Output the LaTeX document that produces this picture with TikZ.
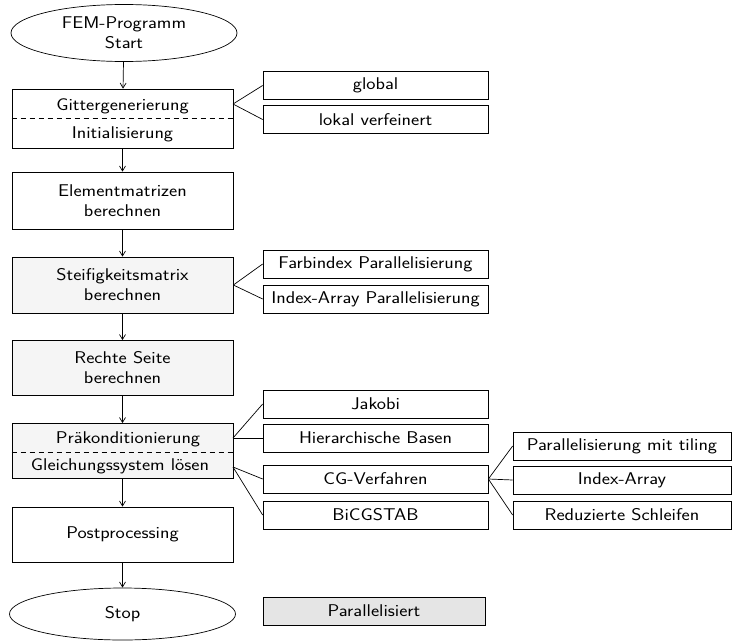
\documentclass[tikz,border=0pt]{standalone}
\usepackage{fontspec}
\setsansfont{Latin Modern Sans}[FakeStretch=1.15]
\usetikzlibrary{arrows.meta,shapes.geometric}
\begin{document}
\begin{tikzpicture}[x=1pt,y=-1pt,
  font=\sffamily\fontsize{17}{20}\selectfont,
  line width=0.7pt,
  mainbox/.style={draw, rectangle, minimum width=221pt, inner sep=0pt, align=center},
  sidebox/.style={draw, rectangle, minimum width=225pt, minimum height=28pt, inner sep=0pt},
  subbox/.style={draw, rectangle, minimum width=218pt, minimum height=28pt, inner sep=0pt},
  terminal/.style={draw, ellipse, minimum width=226pt, inner sep=0pt, align=center},
  flow/.style={-{Straight Barb[length=5pt,width=6pt]}},
  parfill/.style={fill=black!4},
  sepline/.style={dash pattern=on 5pt off 4pt}]
\useasboundingbox (0,0) rectangle (733,640);

% main column
\node[terminal, minimum height=57pt] (start) at (124,33) {FEM-Programm\\Start};
\node[mainbox, minimum height=59pt] (gitter) at (122.5,118.5) {};
\draw[sepline] (gitter.west |- 0,118) coordinate (gsl) -- (gitter.east |- 0,118) coordinate (gsr);
\node (gtext) at (122.5,106) {Gittergenerierung};
\node (itext) at (122.5,134) {Initialisierung};
\node[mainbox, minimum height=57pt] (elem) at (122.5,200.5) {Elementmatrizen\\berechnen};
\node[mainbox, parfill, minimum height=56pt] (steif) at (122.5,285) {Steifigkeitsmatrix\\berechnen};
\node[mainbox, parfill, minimum height=55pt] (rechte) at (122.5,368) {Rechte Seite\\berechnen};
\node[mainbox, parfill, minimum height=55pt] (prae) at (122.5,451) {};
\draw[sepline] (prae.west |- 0,452) coordinate (psl) -- (prae.east |- 0,452) coordinate (psr);
\node (ptext) at (128,439) {Präkonditionierung};
\node (ltext) at (120,466) {Gleichungssystem lösen};
\node[mainbox, minimum height=55pt] (post) at (122.5,534.5) {Postprocessing};
\node[terminal, minimum height=52pt] (stop) at (122.5,614) {Stop};

\draw[flow] (start) -- (gitter);
\draw[flow] (gitter) -- (elem);
\draw[flow] (elem) -- (steif);
\draw[flow] (steif) -- (rechte);
\draw[flow] (rechte) -- (prae);
\draw[flow] (prae) -- (post);
\draw[flow] (post) -- (stop);

% side boxes
\node[sidebox] (global) at (375.5,85.5) {global};
\node[sidebox] (lokal) at (375.5,119.5) {lokal verfeinert};
\node[sidebox] (farb) at (375.5,264) {Farbindex Parallelisierung};
\node[sidebox] (iapar) at (375.5,299) {Index-Array Parallelisierung};
\node[sidebox] (jakobi) at (375.5,404) {Jakobi};
\node[sidebox] (hier) at (375.5,438) {Hierarchische Basen};
\node[sidebox] (cg) at (375.5,479) {CG-Verfahren};
\node[sidebox] (bicg) at (375.5,515) {BiCGSTAB};

\node[subbox] (tiling) at (622,446) {Parallelisierung mit tiling};
\node[subbox] (iarr) at (622,480) {Index-Array};
\node[subbox] (reduz) at (622,515) {Reduzierte Schleifen};

\node[sidebox, fill=black!10, minimum width=222pt] (legend) at (374,611) {Parallelisiert};

% connectors
\coordinate (gout) at (233,104);
\draw (gout) -- (global.west);
\draw (gout) -- (lokal.west);
\draw (steif.east) -- (farb.west);
\draw (steif.east) -- (iapar.west);
\coordinate (pout) at (233,438);
\coordinate (lout) at (233,467);
\draw (pout) -- (jakobi.west);
\draw (pout) -- (hier.west);
\draw (lout) -- (cg.west);
\draw (lout) -- (bicg.west);
\draw (cg.east) -- (tiling.west);
\draw (cg.east) -- (iarr.west);
\draw (cg.east) -- (reduz.west);
\end{tikzpicture}
\end{document}
